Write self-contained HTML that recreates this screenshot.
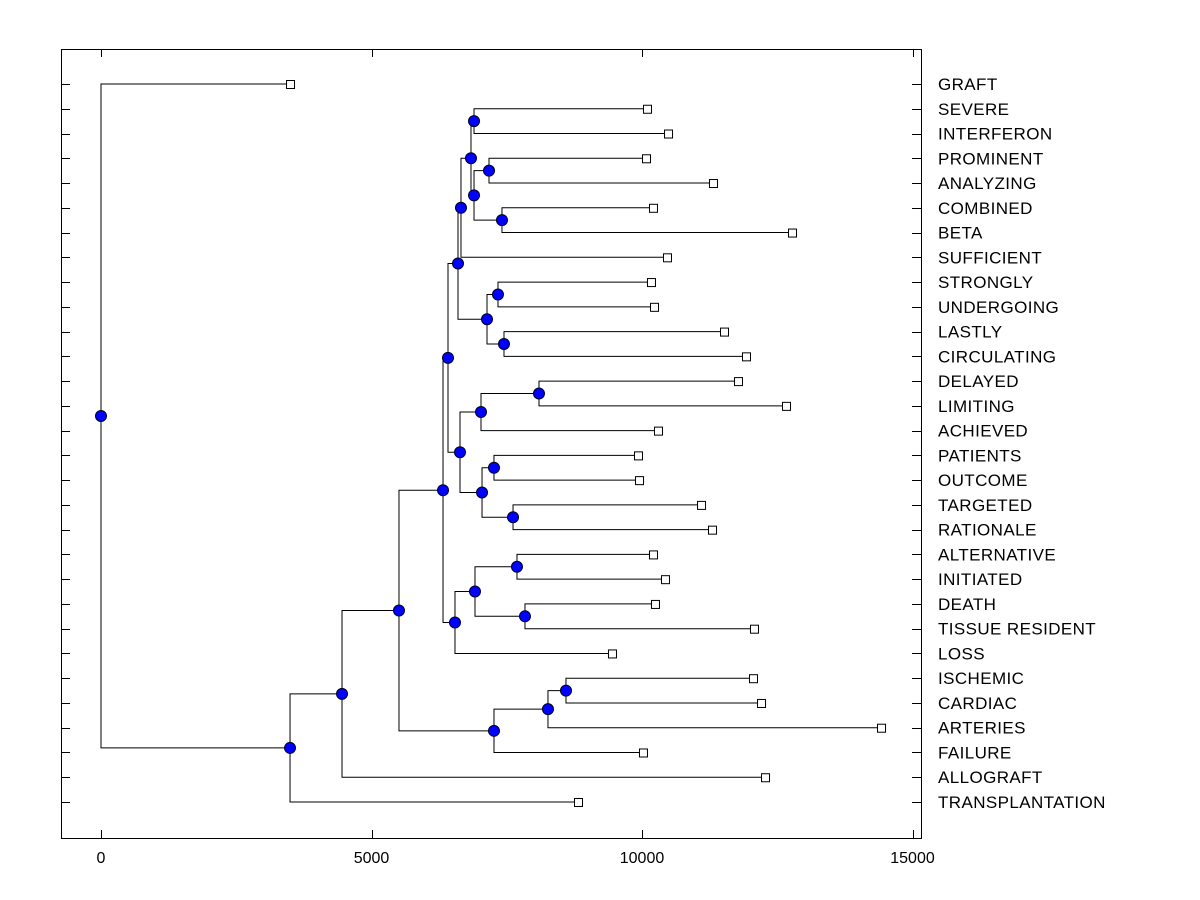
<!DOCTYPE html>
<html><head><meta charset="utf-8"><style>
body{margin:0;background:#fff}
svg{display:block;font-family:"Liberation Sans",Arial,sans-serif}
</style></head><body>
<svg id="chart" width="1200" height="900" viewBox="0 0 1200 900" xmlns="http://www.w3.org/2000/svg">
<rect x="0" y="0" width="1200" height="900" fill="#fff"/>
<rect x="61.5" y="49.5" width="860" height="789" fill="none" stroke="#000" stroke-width="1"/>
<g id="ticks"></g>
<g id="tree"></g>
<g id="marks"></g>
<g id="labels"></g>
</svg>
<script>
const leafNames = ["GRAFT","SEVERE","INTERFERON","PROMINENT","ANALYZING","COMBINED","BETA","SUFFICIENT","STRONGLY","UNDERGOING","LASTLY","CIRCULATING","DELAYED","LIMITING","ACHIEVED","PATIENTS","OUTCOME","TARGETED","RATIONALE","ALTERNATIVE","INITIATED","DEATH","TISSUE RESIDENT","LOSS","ISCHEMIC","CARDIAC","ARTERIES","FAILURE","ALLOGRAFT","TRANSPLANTATION"];
const leafHeights = [3494,10092,10481,10074,11312,10203,12773,10462,10166,10222,11516,11922,11774,12662,10296,9926,9945,11091,11294,10203,10425,10240,12070,9445,12052,12200,14418,10018,12274,8817];
// internal nodes: [name, childA, childB]; children are leaf names or node names
const nodeLinks = [
 ["A","SEVERE","INTERFERON"],["C","PROMINENT","ANALYZING"],["E","COMBINED","BETA"],["D","C","E"],["B","A","D"],["F","B","SUFFICIENT"],
 ["I","STRONGLY","UNDERGOING"],["J","LASTLY","CIRCULATING"],["H","I","J"],["G","F","H"],
 ["M","DELAYED","LIMITING"],["N","M","ACHIEVED"],["Q","PATIENTS","OUTCOME"],["R","TARGETED","RATIONALE"],["P","Q","R"],["L","N","P"],["K","G","L"],
 ["V","ALTERNATIVE","INITIATED"],["W","DEATH","TISSUE RESIDENT"],["U","V","W"],["T","U","LOSS"],["S","K","T"],
 ["Nf","ISCHEMIC","CARDIAC"],["Ne","Nf","ARTERIES"],["Nd","Ne","FAILURE"],["Nc","S","Nd"],["Nb","Nc","ALLOGRAFT"],["Na","Nb","TRANSPLANTATION"],["Root","GRAFT","Na"]
];
const nodeHeights = [6895,7172,7412,6895,6839,6654,7338,7449,7135,6599,8096,7024,7264,7616,7043,6636,6414,7689,7837,6913,6543,6322,8595,8262,7264,5508,4455,3494,0];
const xTicks = [0,5000,10000,15000];

const NS="http://www.w3.org/2000/svg";
const X = v => 101 + v*0.0541;
function ly(i){return 84 + i*(718/29);}
function mk(tag,attrs,parent){const e=document.createElementNS(NS,tag);for(const k in attrs)e.setAttribute(k,attrs[k]);parent.appendChild(e);return e;}
const pos={};
leafNames.forEach((n,i)=>{pos[n]={x:X(leafHeights[i]),y:ly(i)};});
nodeLinks.forEach((nd,i)=>{const a=pos[nd[1]],b=pos[nd[2]];pos[nd[0]]={x:X(nodeHeights[i]),y:(a.y+b.y)/2};});
const tk=document.getElementById('ticks'),tr=document.getElementById('tree'),mg=document.getElementById('marks'),lb=document.getElementById('labels');
leafNames.forEach((n,i)=>{
 const y=Math.round(ly(i))+0.5;
 const t1=mk('line',{x1:61,x2:70,y1:y,y2:y,stroke:'#000'},tk);
 
 
 const t2=mk('line',{x1:912,x2:921,y1:y,y2:y,stroke:'#000'},tk);
 
 
 const t=mk('text',{x:938,y:ly(i)+6,'font-size':17,'letter-spacing':'0.4',fill:'#000'},lb);
 t.textContent=n;
 
 
});
xTicks.forEach(v=>{
 const x=Math.round(X(v))+0.5;
 const a=mk('line',{x1:x,x2:x,y1:49,y2:57,stroke:'#000'},tk);
 
 
 const b=mk('line',{x1:x,x2:x,y1:830,y2:838,stroke:'#000'},tk);
 
 
 const t=mk('text',{x:X(v),y:863,'font-size':16,'text-anchor':'middle',fill:'#000'},tk);
 t.textContent=String(v);
 
 
});
nodeLinks.forEach(nd=>{
 const p=pos[nd[0]],a=pos[nd[1]],b=pos[nd[2]];
 const d=`M${a.x} ${a.y}H${p.x}V${b.y}H${b.x}`;
 const l=mk('path',{d:d,fill:'none',stroke:'#000','stroke-width':1},tr);
 
 
});
leafNames.forEach(n=>{
 const p=pos[n];
 const r=mk('rect',{x:p.x-3.5,y:p.y-3.5,width:8,height:8,fill:'#fff',stroke:'#000'},mg);
 
 
});
nodeLinks.forEach(nd=>{
 const p=pos[nd[0]];
 const c=mk('circle',{cx:p.x,cy:p.y,r:5.5,fill:'#0000ff',stroke:'#000020','stroke-width':1},mg);
 
 
});
</script>
</body></html>
